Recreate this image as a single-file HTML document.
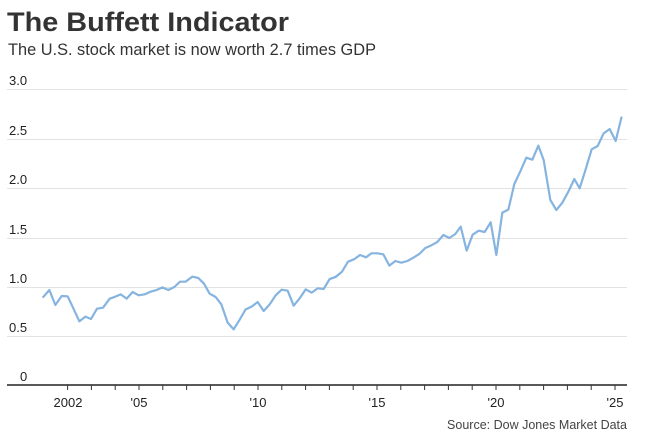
<!DOCTYPE html>
<html><head><meta charset="utf-8"><style>
html,body{margin:0;padding:0;background:#fff;width:671px;height:442px;overflow:hidden}
svg text{font-family:"Liberation Sans",sans-serif}
</style></head><body>
<svg width="671" height="442" viewBox="0 0 671 442" xmlns="http://www.w3.org/2000/svg">
<text x="7" y="31" font-size="27" font-weight="bold" fill="#333" textLength="282" lengthAdjust="spacingAndGlyphs">The Buffett Indicator</text>
<text x="8" y="55" font-size="16.5" fill="#333" textLength="368" lengthAdjust="spacingAndGlyphs">The U.S. stock market is now worth 2.7 times GDP</text>
<g stroke="#e2e2e2" stroke-width="1">
<line x1="7" x2="627" y1="89.5" y2="89.5"/>
<line x1="7" x2="627" y1="139.5" y2="139.5"/>
<line x1="7" x2="627" y1="188.5" y2="188.5"/>
<line x1="7" x2="627" y1="238.5" y2="238.5"/>
<line x1="7" x2="627" y1="287.5" y2="287.5"/>
<line x1="7" x2="627" y1="336.5" y2="336.5"/>
</g>
<g font-size="13" fill="#222">
<text x="9" y="85">3.0</text>
<text x="9" y="135">2.5</text>
<text x="9" y="184">2.0</text>
<text x="9" y="234">1.5</text>
<text x="9" y="283">1.0</text>
<text x="9" y="332">0.5</text>
<text x="20" y="381">0</text>
</g>
<line x1="7" x2="627" y1="385" y2="385" stroke="#222" stroke-width="1.5"/>
<g stroke="#333" stroke-width="1">
<line x1="67.6" x2="67.6" y1="385" y2="390"/><line x1="91.4" x2="91.4" y1="385" y2="390"/>
<line x1="115.2" x2="115.2" y1="385" y2="390"/><line x1="139" x2="139" y1="385" y2="390"/>
<line x1="162.8" x2="162.8" y1="385" y2="390"/><line x1="186.6" x2="186.6" y1="385" y2="390"/>
<line x1="210.4" x2="210.4" y1="385" y2="390"/><line x1="234.2" x2="234.2" y1="385" y2="390"/>
<line x1="258" x2="258" y1="385" y2="390"/><line x1="281.8" x2="281.8" y1="385" y2="390"/>
<line x1="305.6" x2="305.6" y1="385" y2="390"/><line x1="329.4" x2="329.4" y1="385" y2="390"/>
<line x1="353.2" x2="353.2" y1="385" y2="390"/><line x1="377" x2="377" y1="385" y2="390"/>
<line x1="400.8" x2="400.8" y1="385" y2="390"/><line x1="424.6" x2="424.6" y1="385" y2="390"/>
<line x1="448.4" x2="448.4" y1="385" y2="390"/><line x1="472.2" x2="472.2" y1="385" y2="390"/>
<line x1="496" x2="496" y1="385" y2="390"/><line x1="519.8" x2="519.8" y1="385" y2="390"/>
<line x1="543.6" x2="543.6" y1="385" y2="390"/><line x1="567.4" x2="567.4" y1="385" y2="390"/>
<line x1="591.2" x2="591.2" y1="385" y2="390"/><line x1="615" x2="615" y1="385" y2="390"/>
</g>
<g font-size="13" fill="#222" text-anchor="middle">
<text x="68" y="407">2002</text>
<text x="139" y="407">'05</text>
<text x="258" y="407">'10</text>
<text x="377" y="407">'15</text>
<text x="496" y="407">'20</text>
<text x="615" y="407">'25</text>
</g>
<text x="627" y="429" font-size="12.5" fill="#444" text-anchor="end">Source: Dow Jones Market Data</text>
<g fill="none" stroke="#86b4e0" stroke-width="2.2" stroke-linejoin="round">
<polyline transform="translate(0,60) scale(0.33333)" vector-effect="non-scaling-stroke" points="128,713 148,690 166,735 185,708 203,709 220,745 238,784 256,770 273,777 291,746 309,743 329,716 346,710 362,703 380,716 398,696 416,706 434,703 452,695 470,690 487,682 505,690 523,681 540,665 557,665 577,650 595,654 612,671 629,701 647,711 664,733 683,788 701,808 719,779 737,748 755,740 773,726 791,753 809,733 827,706 845,689 863,692 881,737 899,715 917,688 935,698 953,685 971,687 989,657 1007,651 1020,640"/>
<polyline transform="translate(330,60) scale(0.33333)" vector-effect="non-scaling-stroke" points="0,657 18,650 36,635 54,605 72,598 90,585 108,592 124,580 142,580 160,583 178,617 196,603 214,608 232,603 250,593 268,582 286,564 304,556 322,546 340,525 358,534 376,522 392,500 410,572 428,524 446,512 464,516 482,487 499,585 517,458 535,449 553,372 571,334 589,293 607,299 625,257 641,300 661,420 679,450 697,428 715,395 733,357 749,385 767,328 785,268 803,258 821,220 839,207 857,243 875,170"/>
</g>
</svg>
</body></html>
